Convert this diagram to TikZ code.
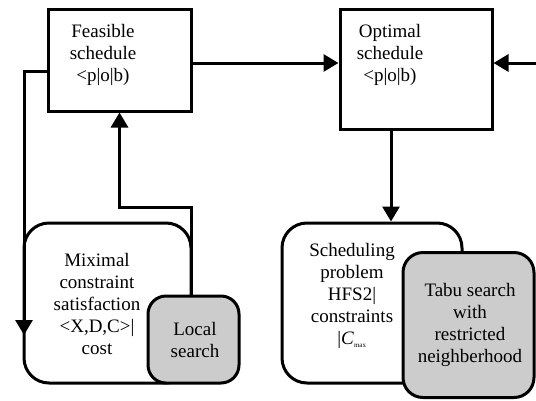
\documentclass[tikz,border=0pt]{standalone}
\usepackage{fontspec}
\setmainfont{Liberation Serif}
\usetikzlibrary{arrows.meta}
\begin{document}
\begin{tikzpicture}[x=1pt,y=-1pt,
	every node/.style={font=\fontsize{19}{22}\selectfont},
	arrowstyle/.style={line width=3pt,-{Triangle[width=17pt,length=15pt]}},
	plainbox/.style={draw,line width=3pt,inner sep=0pt},
	roundbox/.style={plainbox,fill=white,rounded corners=25pt},
	greybox/.style={plainbox,fill=black!20,rounded corners=20pt},
	boxtext/.style={align=center,inner sep=0pt}]
	\useasboundingbox (0,0) rectangle (536,400);
	\clip (0,0) rectangle (536,400);
	
	\node[plainbox,minimum width=143pt,minimum height=102pt](feas) at (119.5,60) {};
	\node[plainbox,minimum width=152pt,minimum height=120pt](opt) at (416,69) {};
	\node[roundbox,minimum width=167pt,minimum height=160pt](maxc) at (107.5,303) {};
	\node[greybox,rounded corners=18pt,minimum width=91pt,minimum height=87pt](local) at (193.5,339.5) {};
	\node[roundbox,minimum width=180pt,minimum height=160pt](sched) at (372,303) {};
	\node[greybox,minimum width=131pt,minimum height=145pt](tabu) at (468.5,325) {};
	
	\node[boxtext](feastxt) at (103,55) {Feasible\\schedule\\<p|o|b)};
	\node[boxtext](opttxt) at (390,55) {Optimal\\schedule\\<p|o|b)};
	\node[boxtext](maxctxt) at (97,304) {Miximal\\constraint\\satisfaction\\<X,D,C>|\\cost};
	\node[boxtext](localtxt) at (195,340) {Local\\search};
	\node[boxtext](schedtxt) at (352,296) {Scheduling\\problem\\HFS2|\\constraints\\|\textit{C}\textsubscript{\scriptsize max}};
	\node[boxtext](tabutxt) at (470,325) {Tabu search\\with\\restricted\\neighberhood};
	
	\coordinate (fo) at (0,63);
	\coordinate (rin) at (536,63);
	\coordinate (od) at (391,0);
	\coordinate (fl) at (24,71);
	\coordinate (fdown) at (24,335);
	\coordinate (lu) at (191,207);
	\coordinate (lf) at (119.5,207);
	
	\draw[arrowstyle] (feas.east |- fo) -- (opt.west |- fo);
	\draw[arrowstyle] (rin) -- (opt.east |- rin);
	\draw[arrowstyle] (opt.south -| od) -- (sched.north -| od);
	\draw[arrowstyle] (feas.west |- fl) -- (fl) -- (fdown);
	\draw[arrowstyle] (local.north -| lu) -- (lu) -- (lf) -- (feas.south);
\end{tikzpicture}
\end{document}
